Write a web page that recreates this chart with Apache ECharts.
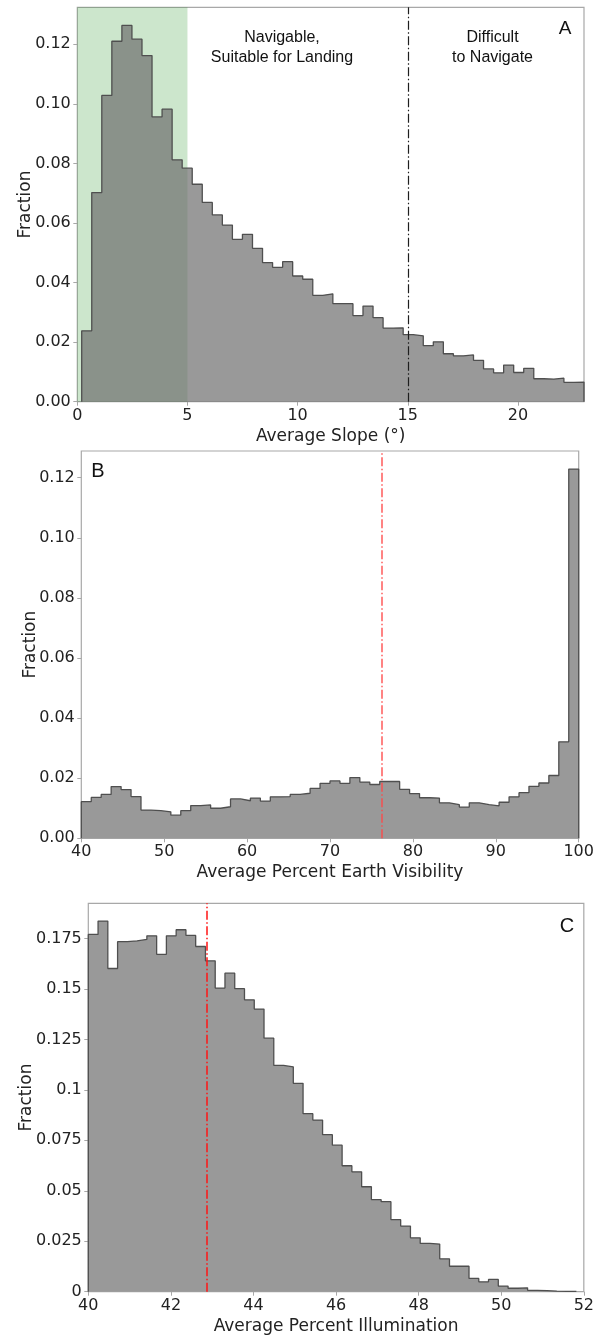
<!DOCTYPE html>
<html>
<head>
<meta charset="utf-8">
<script src="https://cdn.jsdelivr.net/npm/echarts@6/dist/echarts.min.js"></script>
<style>
  html, body { margin: 0; padding: 0; background: #ffffff; }
  #chart { width: 597px; height: 1338px; }
</style>
</head>
<body>
<div id="chart"></div>
<script>
// ---- Panel A: average slope (degrees), fraction per bin ----
const slopeBinStart = 0.2;
const slopeBinWidth = 0.456;
const slopeFractions = [
  0.0238, 0.0702, 0.1028, 0.1210, 0.1263, 0.1217, 0.1162, 0.0956, 0.0982, 0.0812,
  0.0784, 0.0730, 0.0669, 0.0627, 0.0593, 0.0545, 0.0562, 0.0515, 0.0467, 0.0451,
  0.0470, 0.0422, 0.0411, 0.0357, 0.0362, 0.0329, 0.0329, 0.0289, 0.0321, 0.0282,
  0.0247, 0.0248, 0.0225, 0.0221, 0.0188, 0.0201, 0.0161, 0.0154, 0.0157, 0.0139,
  0.0110, 0.0097, 0.0123, 0.0098, 0.0112, 0.0077, 0.0076, 0.0079, 0.0065, 0.0066
];
const slopeXTicks = [0, 5, 10, 15, 20];
const slopeYTicks = [0, 0.02, 0.04, 0.06, 0.08, 0.10, 0.12];
const slopeYLabels = ['0.00', '0.02', '0.04', '0.06', '0.08', '0.10', '0.12'];
const landingBand = [0, 5];
const navigableLimit = 15;

// ---- Panel B: average percent Earth visibility ----
const visBinStart = 40;
const visBinWidth = 1.2;
const visFractions = [
  0.0122, 0.0136, 0.0146, 0.0172, 0.0162, 0.0139, 0.0094, 0.0092, 0.0088, 0.0077,
  0.0092, 0.0109, 0.0111, 0.0100, 0.0105, 0.0131, 0.0125, 0.0134, 0.0124, 0.0138,
  0.0139, 0.0146, 0.0150, 0.0166, 0.0183, 0.0191, 0.0183, 0.0202, 0.0187, 0.0179,
  0.0189, 0.0189, 0.0163, 0.0149, 0.0135, 0.0134, 0.0118, 0.0112, 0.0104, 0.0118,
  0.0112, 0.0108, 0.0120, 0.0138, 0.0152, 0.0173, 0.0184, 0.0209, 0.0321, 0.1229
];
const visXTicks = [40, 50, 60, 70, 80, 90, 100];
const visYTicks = [0, 0.02, 0.04, 0.06, 0.08, 0.10, 0.12];
const visYLabels = ['0.00', '0.02', '0.04', '0.06', '0.08', '0.10', '0.12'];
const visMarker = 76.2;

// ---- Panel C: average percent illumination ----
const illumBinStart = 40;
const illumBinWidth = 0.2364;
const illumFractions = [
  0.1770, 0.1836, 0.1601, 0.1734, 0.1738, 0.1745, 0.1763, 0.1671, 0.1763, 0.1793,
  0.1765, 0.1710, 0.1639, 0.1504, 0.1578, 0.1501, 0.1446, 0.1400, 0.1256, 0.1121,
  0.1114, 0.1032, 0.0882, 0.0850, 0.0778, 0.0726, 0.0624, 0.0594, 0.0520, 0.0456,
  0.0446, 0.0357, 0.0325, 0.0267, 0.0239, 0.0236, 0.0163, 0.0126, 0.0126, 0.0066,
  0.0049, 0.0061, 0.0028, 0.0017, 0.0019, 0.0007, 0.0005, 0.0003, 0.0002, 0.0002
];
const illumXTicks = [40, 42, 44, 46, 48, 50, 52];
const illumYTicks = [0, 0.025, 0.05, 0.075, 0.1, 0.125, 0.15, 0.175];
const illumYLabels = ['0', '0.025', '0.05', '0.075', '0.1', '0.125', '0.15', '0.175'];
const illumMarker = 42.88;

// Build the outline of a filled step histogram from bin start, width and heights.
function stepOutline(start, width, values) {
  const pts = [[start, 0]];
  values.forEach((v, i) => pts.push([start + i * width, v]));
  const end = start + values.length * width;
  pts.push([end, values[values.length - 1]]);
  pts.push([end, 0]);
  return pts;
}

const tickFont = { fontFamily: 'DejaVu Sans', fontSize: 16, color: '#222222' };
const nameFont = { fontFamily: 'DejaVu Sans', fontSize: 17, color: '#222222' };
const frameColor = '#a8a8a8';
const dashDot = [9, 2.5, 1.5, 2.5];

function xAxisDef(gridIndex, min, max, ticks, name) {
  return {
    type: 'value', gridIndex, min, max,
    name, nameLocation: 'middle', nameGap: 26, nameTextStyle: nameFont,
    nameMoveOverlap: false,
    axisLine: { show: false },
    axisTick: { show: true, inside: false, length: 4, customValues: ticks,
                lineStyle: { color: frameColor, width: 1 } },
    axisLabel: { show: true, margin: 6, customValues: ticks, ...tickFont,
                 formatter: v => String(v) },
    splitLine: { show: false }
  };
}

function yAxisDef(gridIndex, max, ticks, labels, nameGap) {
  return {
    type: 'value', gridIndex, min: 0, max,
    name: 'Fraction', nameLocation: 'middle', nameRotate: 90, nameGap,
    nameTextStyle: nameFont, nameMoveOverlap: false,
    axisLine: { show: false },
    axisTick: { show: true, inside: false, length: 4, customValues: ticks,
                lineStyle: { color: frameColor, width: 1 } },
    axisLabel: { show: true, margin: 6.5, customValues: ticks, ...tickFont,
                 formatter: v => labels[ticks.indexOf(v)] },
    splitLine: { show: false }
  };
}

function gridDef(left, top, width, height) {
  return { left, top, width, height, show: true, borderColor: frameColor,
           borderWidth: 1.2, backgroundColor: 'transparent', containLabel: false };
}

const outline = { color: '#4f4f4f', width: 1.3 };

const option = {
  animation: false,
  backgroundColor: '#ffffff',
  grid: [
    gridDef(77.3, 7.3, 506.7, 394.4),
    gridDef(81.3, 451, 497.4, 387.3),
    gridDef(88.3, 903.3, 499.4, 388.4)
  ],
  xAxis: [
    xAxisDef(0, 0, 23, slopeXTicks, 'Average Slope (°)'),
    xAxisDef(1, 40, 100, visXTicks, 'Average Percent Earth Visibility'),
    xAxisDef(2, 40, 52, illumXTicks, 'Average Percent Illumination')
  ],
  yAxis: [
    yAxisDef(0, 0.1324, slopeYTicks, slopeYLabels, 43.5),
    yAxisDef(1, 0.1289, visYTicks, visYLabels, 42.5),
    yAxisDef(2, 0.1924, illumYTicks, illumYLabels, 53)
  ],
  series: [
    {
      type: 'line', xAxisIndex: 0, yAxisIndex: 0, z: 2,
      data: stepOutline(slopeBinStart, slopeBinWidth, slopeFractions),
      step: 'end', symbol: 'none', silent: true,
      lineStyle: outline,
      areaStyle: { color: '#6d6d6d', opacity: 0.7 },
      markArea: {
        silent: true, z: 1,
        itemStyle: { color: 'rgba(0,128,0,0.2)' },
        label: { show: false },
        data: [[{ xAxis: landingBand[0] }, { xAxis: landingBand[1] }]]
      },
      markLine: {
        silent: true, symbol: 'none', label: { show: false },
        lineStyle: { color: '#1e1e1e', width: 1.2, type: dashDot },
        data: [{ xAxis: navigableLimit }]
      }
    },
    {
      type: 'line', xAxisIndex: 1, yAxisIndex: 1, z: 2,
      data: stepOutline(visBinStart, visBinWidth, visFractions),
      step: 'end', symbol: 'none', silent: true,
      lineStyle: outline,
      areaStyle: { color: '#999999', opacity: 1 },
      markLine: {
        silent: true, symbol: 'none', label: { show: false },
        lineStyle: { color: '#ff4848', width: 1.5, type: dashDot, opacity: 0.9 },
        data: [{ xAxis: visMarker }]
      }
    },
    {
      type: 'line', xAxisIndex: 2, yAxisIndex: 2, z: 2,
      data: stepOutline(illumBinStart, illumBinWidth, illumFractions),
      step: 'end', symbol: 'none', silent: true,
      lineStyle: outline,
      areaStyle: { color: '#999999', opacity: 1 },
      markLine: {
        silent: true, symbol: 'none', label: { show: false },
        lineStyle: { color: '#ff1414', width: 1.5, type: dashDot, opacity: 1 },
        data: [{ xAxis: illumMarker }]
      }
    }
  ],
  graphic: [
    { type: 'text', x: 282, y: 28, z: 10, silent: true,
      style: { text: 'Navigable,\nSuitable for Landing', align: 'center', verticalAlign: 'top',
               font: '16px "Liberation Sans", Arial, sans-serif', lineHeight: 20, fill: '#111111' } },
    { type: 'text', x: 492.5, y: 28, z: 10, silent: true,
      style: { text: 'Difficult\nto Navigate', align: 'center', verticalAlign: 'top',
               font: '16px "Liberation Sans", Arial, sans-serif', lineHeight: 20, fill: '#111111' } },
    { type: 'text', x: 565, y: 29, z: 10, silent: true,
      style: { text: 'A', align: 'center', verticalAlign: 'middle',
               font: '19px "Liberation Sans", Arial, sans-serif', fill: '#111111' } },
    { type: 'text', x: 98, y: 471, z: 10, silent: true,
      style: { text: 'B', align: 'center', verticalAlign: 'middle',
               font: '20px "Liberation Sans", Arial, sans-serif', fill: '#111111' } },
    { type: 'text', x: 567, y: 926, z: 10, silent: true,
      style: { text: 'C', align: 'center', verticalAlign: 'middle',
               font: '20px "Liberation Sans", Arial, sans-serif', fill: '#111111' } }
  ]
};

const chart = echarts.init(document.getElementById('chart'), null, { renderer: 'canvas' });
chart.setOption(option);
</script>
</body>
</html>
